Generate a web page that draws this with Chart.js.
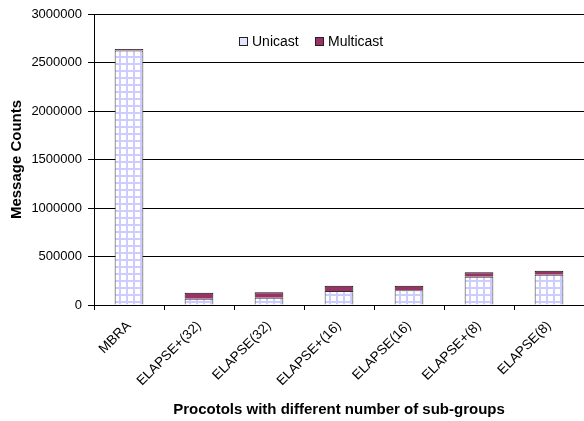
<!DOCTYPE html>
<html>
<head>
<meta charset="utf-8">
<script src="https://cdn.jsdelivr.net/npm/chart.js@4.4.0/dist/chart.umd.min.js"></script>
<style>
  html, body { margin: 0; padding: 0; background: #fff; overflow: hidden; }
  #wrap { position: relative; width: 584px; height: 421px; }
  .leg { position: absolute; top: 33px; font: 14px "Liberation Sans", Arial, sans-serif; color: #000; white-space: nowrap; }
  .box { display: inline-block; width: 7px; height: 7px; border: 1px solid #222; vertical-align: 0px; margin-right: 4px; }
</style>
</head>
<body>
<div id="wrap">
  <canvas id="chart" width="584" height="421"></canvas>
  <div class="leg" style="left:239px"><span class="box" style="background:#e4e4ff"></span>Unicast</div>
  <div class="leg" style="left:315px"><span class="box" style="background:#993366"></span>Multicast</div>
</div>
<script>
// =======================
// Data
// =======================
const categories = ["MBRA", "ELAPSE+(32)", "ELAPSE(32)", "ELAPSE+(16)", "ELAPSE(16)", "ELAPSE+(8)", "ELAPSE(8)"];
const unicast = [2625000, 65000, 75000, 144000, 151000, 292000, 313000];
const multicast = [15000, 62000, 56000, 55000, 48000, 45000, 41000];
const yTicks = [0, 500000, 1000000, 1500000, 2000000, 2500000, 3000000];

// light lavender grid fill like the old Excel pattern
function gridPattern() {
  const c = document.createElement("canvas");
  c.width = 7; c.height = 7;
  const g = c.getContext("2d");
  g.fillStyle = "#fff";
  g.fillRect(0, 0, 7, 7);
  g.fillStyle = "#ccccff";
  g.fillRect(0, 0, 7, 2);
  g.fillRect(0, 0, 2, 7);
  return g.createPattern(c, "repeat");
}

const ctx = document.getElementById("chart").getContext("2d");
const font = "'Liberation Sans', Arial, sans-serif";

new Chart(ctx, {
  type: "bar",
  data: {
    labels: categories,
    datasets: [
      {
        label: "Unicast",
        data: unicast,
        backgroundColor: gridPattern(),
        borderColor: "#333",
        borderWidth: 1,
        barPercentage: 0.41,
        categoryPercentage: 1
      },
      {
        label: "Multicast",
        data: multicast,
        backgroundColor: "#993366",
        borderColor: "#111",
        borderWidth: 1,
        barPercentage: 0.41,
        categoryPercentage: 1
      }
    ]
  },
  options: {
    responsive: false,
    animation: false,
    layout: { padding: { top: 14, left: 0, right: 0, bottom: 0 } },
    plugins: {
      legend: { display: false },
      tooltip: { enabled: false }
    },
    scales: {
      x: {
        stacked: true,
        grid: { drawOnChartArea: false, color: "#000", tickLength: 5, offset: true },
        border: { color: "#000", width: 1 },
        ticks: {
          color: "#000",
          font: { family: font, size: 13.5 },
          minRotation: 45,
          maxRotation: 45,
          padding: 8,
          autoSkip: false
        },
        title: {
          display: true,
          text: "Procotols with different number of sub-groups",
          color: "#000",
          font: { family: font, size: 15, weight: "bold" },
          padding: { top: 0, bottom: 2 }
        },
        afterFit: s => { s.height = 116; }
      },
      y: {
        stacked: true,
        min: 0,
        max: 3000000,
        afterBuildTicks: s => { s.ticks = yTicks.map(v => ({ value: v })); },
        grid: { color: "#000", tickLength: 6, drawTicks: true },
        border: { color: "#000", width: 1 },
        ticks: {
          color: "#000",
          font: { family: font, size: 13 },
          padding: 6,
          callback: v => String(v)
        },
        title: {
          display: true,
          text: "Message Counts",
          color: "#000",
          font: { family: font, size: 15, weight: "bold" },
          padding: { top: 8, bottom: 0 }
        },
        afterFit: s => { s.width = 94; }
      }
    }
  }
});
</script>
</body>
</html>
